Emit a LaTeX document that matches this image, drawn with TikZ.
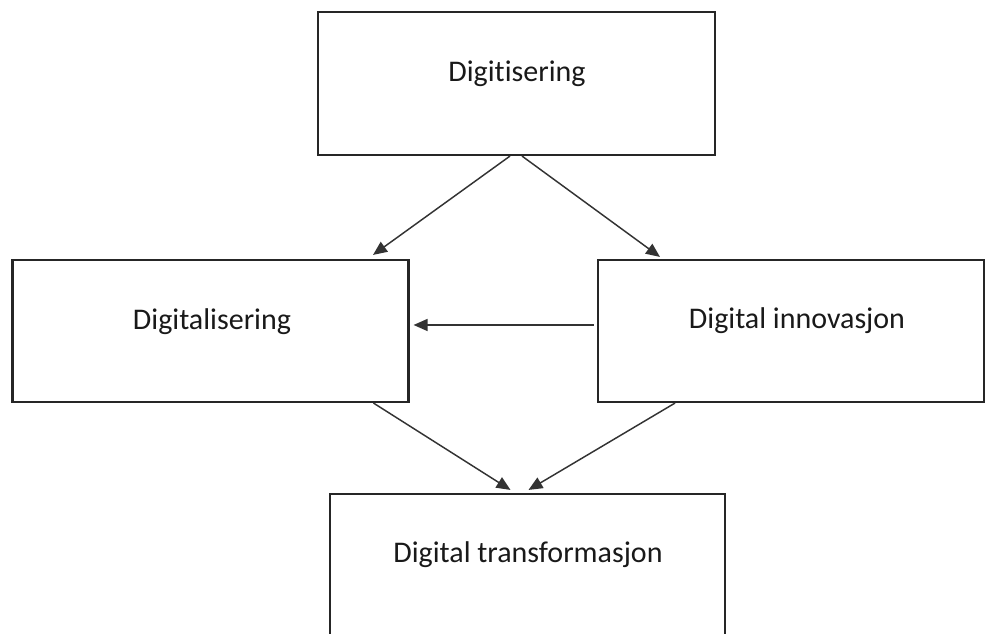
\documentclass[tikz,border=0pt]{standalone}
\usepackage{fontspec}
\setmainfont{Carlito}[Ligatures={NoCommon}]
\usetikzlibrary{arrows.meta,calc}
\begin{document}
\begin{tikzpicture}[x=0.75pt,y=-0.75pt,
  box/.style={draw=black!85, line width=1.6pt, fill=none, inner sep=0pt},
  lbl/.style={anchor=base, font=\fontsize{22.5}{27}\selectfont, text=black!90, inner sep=0pt},
  arr/.style={draw=black!80, line width=1.1pt, -{Triangle[length=10.5pt,width=9pt]}}]
\useasboundingbox (0,0) rectangle (986,634);
\begin{scope}
\clip (0,0) rectangle (986,634);
\node[box, minimum width=397*0.75pt, minimum height=143*0.75pt] (top) at (516.5,83.5) {};
\node[box, minimum width=396*0.75pt, minimum height=142*0.75pt] (left) at (210.5,331) {};
\node[box, draw=black!85, minimum width=386*0.75pt, minimum height=142*0.75pt] (right) at (791,331) {};
\node[box, minimum width=395*0.75pt, minimum height=150*0.75pt] (bottom) at (527.5,569) {};
\end{scope}
\node[lbl] (ltop) at (517,82) {Digitisering};
\node[lbl] (lleft) at (212,330) {Digitalisering};
\node[lbl] (lright) at (797,329) {Digital innovasjon};
\node[lbl] (lbottom) at (528,563) {Digital transformasjon};
\draw[arr] ($(top.south)+(-6.5,0)$) -- ($(left.north)+(162.5,-4)$);
\draw[arr] ($(top.south)+(5.5,0)$) -- ($(right.north)+(-131,-2)$);
\draw[arr] ($(right.west)+(-3,-6)$) -- ($(left.east)+(4,-6)$);
\draw[arr] ($(left.south)+(163,0)$) -- ($(bottom.north)+(-17,-3)$);
\draw[arr] ($(right.south)+(-116,0)$) -- ($(bottom.north)+(1,-3)$);
\end{tikzpicture}
\end{document}
